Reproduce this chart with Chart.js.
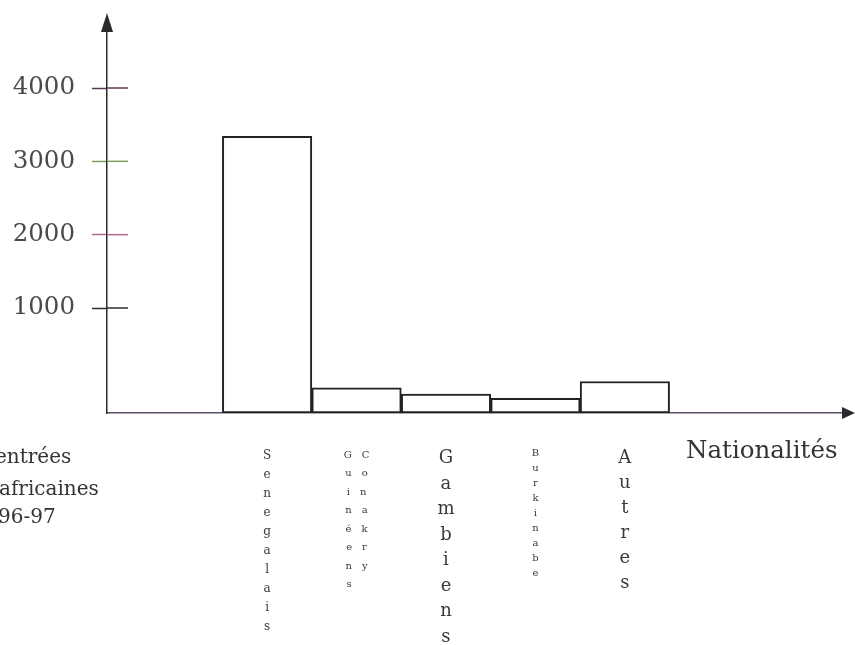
<!DOCTYPE html>
<html>
<head>
<meta charset="utf-8">
<script src="https://cdn.jsdelivr.net/npm/chart.js@4.4.1/dist/chart.umd.min.js"></script>
<style>
  html, body { margin: 0; padding: 0; background: #ffffff; }
  #wrap { width: 855px; height: 645px; }
</style>
</head>
<body>
<div id="wrap"><canvas id="c" width="855" height="645"></canvas></div>
<script>
// ---- data ----
const categories = ['Senegalais', 'Guinéens Conakry', 'Gambiens', 'Burkinabe', 'Autres'];
const entries = [3340, 240, 180, 140, 300];
const yTickValues = [1000, 2000, 3000, 4000];
const xAxisTitle = 'Nationalités';
const yAxisTitleLines = ['entrées', 'africaines', '96-97'];

// ---- a linear scale whose first segment (0..1000) is drawn taller, as on the hand-made axis ----
class BrokenLinearScale extends Chart.LinearScale {
  _toDecimal(v) {
    const b = this.options.breakValue, f = this.options.lowShare;
    if (v <= b) return f * (v - this.min) / (b - this.min);
    return f + (1 - f) * (v - b) / (this.max - b);
  }
  getPixelForValue(v) {
    if (v === null || v === undefined) return NaN;
    return this.getPixelForDecimal(this._toDecimal(v));
  }
  getValueForPixel(p) {
    const d = this.getDecimalForPixel(p);
    const b = this.options.breakValue, f = this.options.lowShare;
    if (d <= f) return this.min + d / f * (b - this.min);
    return b + (d - f) / (1 - f) * (this.max - b);
  }
}
BrokenLinearScale.id = 'brokenLinear';
BrokenLinearScale.defaults = {};
Chart.register(BrokenLinearScale);

function stackLetters(label) {
  const words = label.split(' ');
  if (words.length === 1) return Array.from(label);
  const a = Array.from(words[0]), b = Array.from(words[1]);
  const n = Math.max(a.length, b.length);
  const lines = [];
  for (let i = 0; i < n; i++) {
    lines.push((a[i] || '\u2002') + '\u2003' + (b[i] || '\u2002'));
  }
  return lines;
}

const labelFonts = [
  { size: 12, lineHeight: '19px' },
  { size: 10, lineHeight: '18.5px' },
  { size: 18, lineHeight: '25.5px' },
  { size: 10, lineHeight: '15px' },
  { size: 18, lineHeight: '25px' }
];
const tickMarkColors = ['#2e2e2e', '#b06a90', '#7f9f5a', '#5a3a55'];

const decorations = {
  id: 'decorations',
  beforeDraw(chart) {
    const ctx = chart.ctx;
    ctx.save();
    ctx.fillStyle = '#ffffff';
    ctx.fillRect(0, 0, chart.width, chart.height);
    ctx.restore();
  },
  afterDraw(chart) {
    const ctx = chart.ctx;
    const ys = chart.scales.y;
    const area = chart.chartArea;
    ctx.save();
    // inner half of the y tick marks (they cross the axis)
    ys.ticks.forEach((t, i) => {
      const py = ys.getPixelForTick(i);
      ctx.strokeStyle = tickMarkColors[i % tickMarkColors.length];
      ctx.lineWidth = 1.5;
      ctx.beginPath();
      ctx.moveTo(area.left, py);
      ctx.lineTo(area.left + 21, py);
      ctx.stroke();
    });
    // arrow heads
    ctx.fillStyle = '#2a2a2a';
    ctx.beginPath();
    ctx.moveTo(area.left, area.top - 9);
    ctx.lineTo(area.left - 6, area.top + 10);
    ctx.lineTo(area.left + 6, area.top + 10);
    ctx.closePath();
    ctx.fill();
    ctx.beginPath();
    ctx.moveTo(area.right + 11, area.bottom);
    ctx.lineTo(area.right - 2, area.bottom - 6);
    ctx.lineTo(area.right - 2, area.bottom + 6);
    ctx.closePath();
    ctx.fill();
    // axis titles
    ctx.fillStyle = '#333333';
    ctx.textBaseline = 'alphabetic';
    ctx.textAlign = 'left';
    ctx.font = '24.5px "DejaVu Serif"';
    ctx.fillText(xAxisTitle, 686, 458);
    ctx.font = '20px "DejaVu Serif"';
    const ly = [463, 495, 523];
    const lx = [-5, -1, -2];
    yAxisTitleLines.forEach((s, i) => ctx.fillText(s, lx[i], ly[i]));
    ctx.restore();
  }
};

new Chart(document.getElementById('c'), {
  type: 'bar',
  data: {
    datasets: [{
      label: 'Entrées',
      data: categories.map((c, i) => ({ x: i, y: entries[i] })),
      backgroundColor: '#ffffff',
      borderColor: '#222222',
      borderWidth: 2,
      borderSkipped: false,
      barPercentage: 1,
      categoryPercentage: 1
    }]
  },
  options: {
    responsive: false,
    animation: false,
    layout: { padding: { top: 22, right: 11, left: 0, bottom: 0 } },
    plugins: { legend: { display: false }, tooltip: { enabled: false }, title: { display: false } },
    scales: {
      x: {
        type: 'linear',
        offset: false,
        min: -1.79,
        max: 6.45,
        afterFit(scale) { scale.height = 232; scale.paddingLeft = 0; scale.paddingRight = 0; },
        afterBuildTicks(scale) { scale.ticks = categories.map((c, i) => ({ value: i })); },
        grid: { display: true, drawOnChartArea: false, drawTicks: false, offset: false },
        border: { display: true, color: '#5e4d68', width: 1.5 },
        ticks: {
          padding: 33,
          maxRotation: 0,
          autoSkip: false,
          color: '#3a3a3a',
          font: (ctx) => {
            const f = labelFonts[ctx.index] || labelFonts[0];
            return { family: '"DejaVu Serif"', size: f.size, lineHeight: f.lineHeight };
          },
          callback: (value) => stackLetters(categories[value] || '')
        }
      },
      y: {
        type: 'brokenLinear',
        min: 0,
        max: 4900,
        breakValue: 1000,
        lowShare: 105 / 391,
        afterFit(scale) { scale.width = 107; scale.paddingTop = 0; scale.paddingBottom = 0; },
        afterBuildTicks(scale) { scale.ticks = yTickValues.map(v => ({ value: v })); },
        grid: {
          display: true,
          drawOnChartArea: false,
          drawTicks: true,
          tickLength: 15,
          tickWidth: 1.5,
          tickColor: (ctx) => tickMarkColors[ctx.index % tickMarkColors.length]
        },
        border: { display: true, color: '#2a2a2a', width: 1.5 },
        ticks: {
          padding: 17,
          color: '#4a4a4a',
          font: { family: '"DejaVu Serif"', size: 24.5 },
          callback: (value) => String(value)
        }
      }
    }
  },
  plugins: [decorations]
});
</script>
</body>
</html>
